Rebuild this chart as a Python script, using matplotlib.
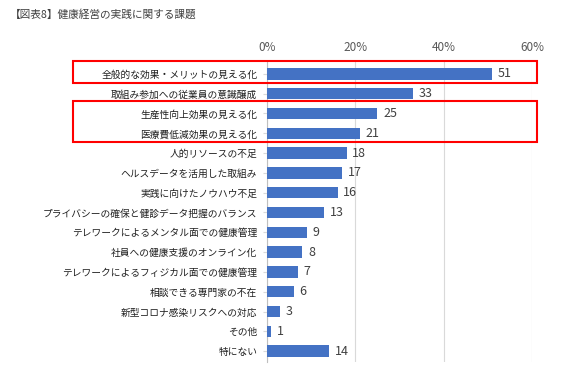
import matplotlib
matplotlib.use("Agg")
import matplotlib.pyplot as plt
from matplotlib.patches import Rectangle
import matplotlib.transforms as mtransforms

plt.rcParams['font.family'] = ['Noto Sans CJK JP', 'DejaVu Sans']

title = "【図表8】健康経営の実践に関する課題"
categories = [
    "全般的な効果・メリットの見える化",
    "取組み参加への従業員の意識醸成",
    "生産性向上効果の見える化",
    "医療費低減効果の見える化",
    "人的リソースの不足",
    "ヘルスデータを活用した取組み",
    "実践に向けたノウハウ不足",
    "プライバシーの確保と健診データ把握のバランス",
    "テレワークによるメンタル面での健康管理",
    "社員への健康支援のオンライン化",
    "テレワークによるフィジカル面での健康管理",
    "相談できる専門家の不在",
    "新型コロナ感染リスクへの対応",
    "その他",
    "特にない",
]
values = [51, 33, 25, 21, 18, 17, 16, 13, 9, 8, 7, 6, 3, 1, 14]
xticks = [0, 20, 40, 60]
xtick_labels = ["0%", "20%", "40%", "60%"]
highlight_groups = [(0, 0), (2, 3)]

fig = plt.figure(figsize=(5.67, 3.82), dpi=100)
ax = fig.add_axes([267/567, 1-362/382, (532-267)/567, 300/382])

y = list(range(len(categories)))
ax.barh(y, values, height=0.58, color="#4472C4", zorder=3)
for yi, v in zip(y, values):
    ax.text(v + 1.3, yi, str(v), va="center", ha="left", fontsize=9, color="#404040")

ax.set_xlim(0, 60)
ax.set_ylim(len(categories) - 0.45, -0.6)
ax.set_xticks(xticks)
ax.set_xticklabels(xtick_labels)
ax.xaxis.tick_top()
ax.tick_params(axis="x", length=0, labelsize=8.5, labelcolor="#595959", pad=6)
ax.set_yticks(y)
ax.set_yticklabels(categories)
ax.tick_params(axis="y", length=3, direction="out", color="#D9D9D9", labelsize=7, labelcolor="#202020", pad=4)
ax.grid(axis="x", color="#D9D9D9", linewidth=0.8, zorder=0)
for s in ["top", "right", "bottom"]:
    ax.spines[s].set_visible(False)
ax.spines["left"].set_color("#BFBFBF")

fig.text(10/567, 1-14/382, title, fontsize=7.7, color="#404040", va="center", ha="left")

trans = mtransforms.blended_transform_factory(fig.transFigure, ax.transData)
for a, b in highlight_groups:
    top = a - 0.64
    bottom = b + 0.44
    rect = Rectangle((73/567, bottom), (537-73)/567, top - bottom,
                     transform=trans, fill=False, edgecolor="#FF0000",
                     linewidth=1.5, clip_on=False)
    fig.add_artist(rect)

fig.savefig("out.png", dpi=100)
